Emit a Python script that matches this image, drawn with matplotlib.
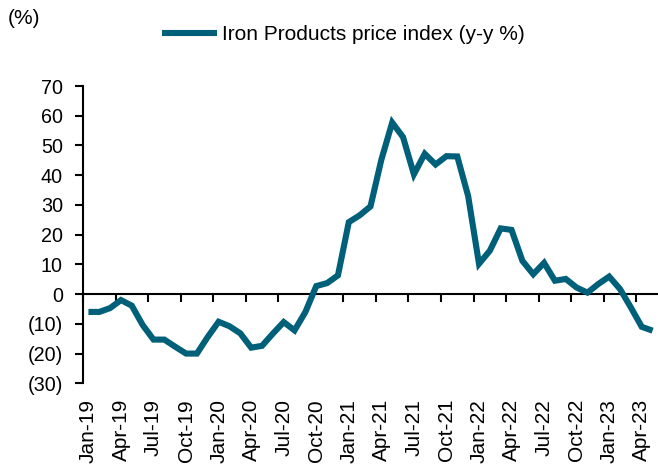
import matplotlib
matplotlib.use("Agg")
import matplotlib.pyplot as plt
import pandas as pd

plt.rcParams['font.family'] = ['Liberation Sans', 'DejaVu Sans']

months = [d.strftime('%b-%y') for d in pd.date_range('2019-01-01', '2023-05-01', freq='MS')]
values = [-6.0, -6.0, -4.7, -2.0, -3.9, -10.4, -15.3, -15.3, -17.7, -20.0, -20.0, -14.4,
          -9.3, -10.8, -13.2, -18.0, -17.4, -13.3, -9.4, -12.2, -6.0, 2.7, 3.7, 6.3,
          24.2, 26.5, 29.5, 45.2, 57.7, 52.8, 40.3, 47.2, 43.6, 46.4, 46.3, 33.0,
          10.2, 14.6, 22.1, 21.6, 11.2, 6.7, 10.5, 4.5, 5.1, 2.2, 0.5, 3.4,
          5.9, 1.7, -4.5, -11.0, -12.3]
series_name = 'Iron Products price index (y-y %)'
y_ticks = [70, 60, 50, 40, 30, 20, 10, 0, -10, -20, -30]
y_tick_labels = ['70', '60', '50', '40', '30', '20', '10', '0', '(10)', '(20)', '(30)']

color = '#00607A'

fig = plt.figure(figsize=(6.58, 4.66), dpi=100)
ax = fig.add_axes([83/658, 1 - 383.3/466, 1 - 83/658, (383.3 - 86)/466])

x = list(range(len(values)))
line, = ax.plot(x, values, color=color, lw=4.4, solid_joinstyle='miter', solid_capstyle='butt', label=series_name)

ax.set_xlim(-0.5, len(values) - 0.5)
ax.set_ylim(-30, 70)

ax.spines['top'].set_visible(False)
ax.spines['right'].set_visible(False)
ax.spines['bottom'].set_position(('data', 0))
ax.spines['left'].set_linewidth(1.5)
ax.spines['bottom'].set_linewidth(1.5)
ax.spines['left'].set_zorder(1)
ax.spines['bottom'].set_zorder(1)

ax.set_yticks(y_ticks)
ax.set_yticklabels(y_tick_labels)
ax.tick_params(axis='y', direction='out', length=5.5, width=1.5, pad=9, labelsize=14.2)

# major ticks between categories, labelled minor ticks at categories
major_pos = [i - 0.5 for i in range(0, len(values), 3)]
ax.set_xticks(major_pos)
ax.set_xticklabels([''] * len(major_pos))
ax.tick_params(axis='x', which='major', direction='out', length=5.5, width=1.5)
label_pos = list(range(0, len(values), 3))
ax.set_xticks(label_pos, minor=True)
ax.set_xticklabels([months[i] for i in label_pos], minor=True, rotation=90, fontsize=15)
ax.tick_params(axis='x', which='minor', length=0, pad=75.5)
for t in ax.get_xticklabels(minor=True):
    t.set_verticalalignment('top')

fig.text(8/658, 1 - 18/466, '(%)', fontsize=15, ha='left', va='center')

fig.legend(handles=[line], loc='center left', bbox_to_anchor=(162/658, 1 - 35/466),
           frameon=False, fontsize=15, handlelength=2.65, handletextpad=0.24,
           borderpad=0, borderaxespad=0)

fig.savefig('out.png', dpi=100)
